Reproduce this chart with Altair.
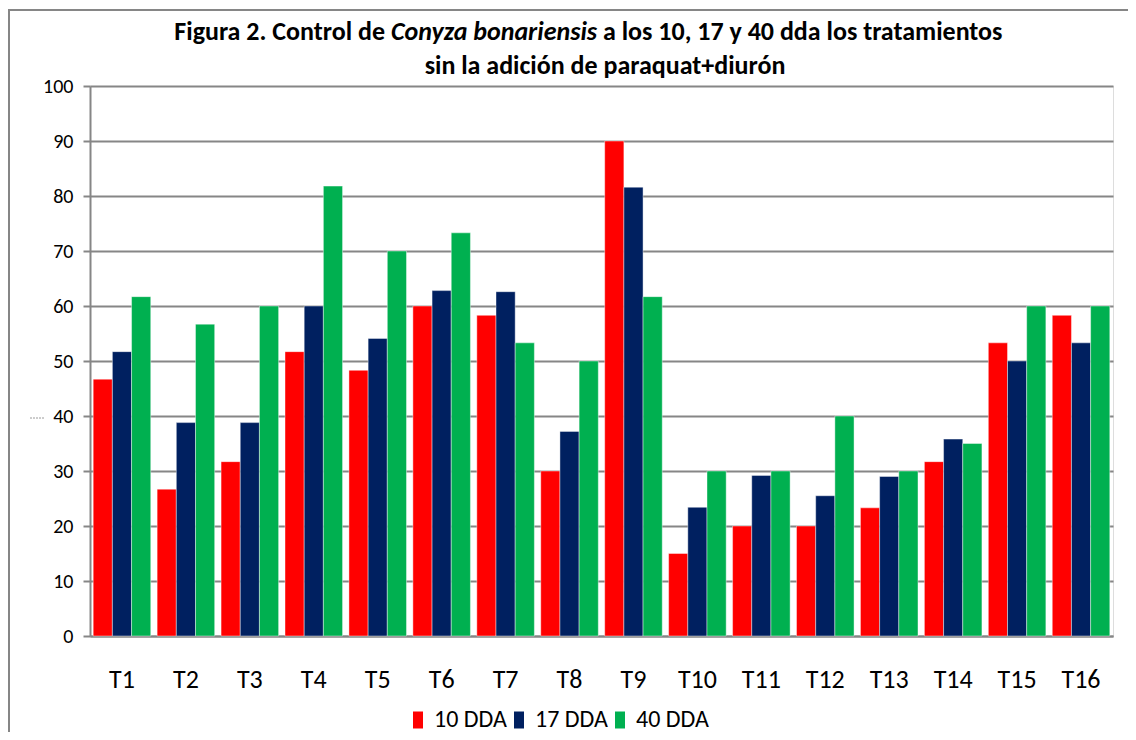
import altair as alt
import pandas as pd

categories = [f"T{i}" for i in range(1, 17)]
series = ["10 DDA", "17 DDA", "40 DDA"]
dda10 = [46.7, 26.7, 31.7, 51.7, 48.3, 60.0, 58.3, 30.0, 90.0, 15.0, 20.0, 20.0, 23.3, 31.7, 53.3, 58.3]
dda17 = [51.7, 38.8, 38.8, 60.0, 54.1, 62.8, 62.6, 37.2, 81.6, 23.4, 29.2, 25.5, 29.0, 35.8, 50.0, 53.3]
dda40 = [61.7, 56.7, 60.0, 81.8, 70.0, 73.3, 53.3, 50.0, 61.7, 30.0, 30.0, 40.0, 30.0, 35.0, 60.0, 60.0]
colors = ["#FF0000", "#002060", "#00B050"]
y_ticks = list(range(0, 101, 10))

rows = []
for s, vals in zip(series, [dda10, dda17, dda40]):
    for c, v in zip(categories, vals):
        rows.append({"trat": c, "serie": s, "valor": v})
df = pd.DataFrame(rows)

FONT = "Carlito, Lato, sans-serif"
W, H = 1023, 550

bars = alt.Chart(df).mark_bar(stroke="white", strokeWidth=0.6, strokeOpacity=0.7).encode(
    x=alt.X("trat:N", sort=categories, title=None,
            scale=alt.Scale(paddingInner=0.1, paddingOuter=0.05),
            axis=alt.Axis(labelAngle=0, ticks=False, labelFontSize=26, labelPadding=30,
                          domainColor="#868686", domainWidth=2, labelColor="#000")),
    xOffset=alt.XOffset("serie:N", sort=series),
    y=alt.Y("valor:Q", title=None,
            scale=alt.Scale(domain=[0, 100], nice=False),
            axis=alt.Axis(values=y_ticks, grid=True, gridColor="#868686", gridWidth=2,
                          tickColor="#868686", tickWidth=2, tickSize=7,
                          domainColor="#868686", domainWidth=2,
                          labelFontSize=20, labelPadding=10, labelColor="#000")),
    color=alt.Color("serie:N", sort=series,
                    scale=alt.Scale(domain=series, range=colors),
                    legend=alt.Legend(title=None, orient="none", direction="horizontal",
                                      legendX=316, legendY=622,
                                      symbolType="M-1,-1.7H1V1.7H-1Z", symbolSize=100,
                                      symbolStrokeWidth=0, labelFontSize=24, labelOffset=4,
                                      columnPadding=0, labelColor="#000")),
)

one = pd.DataFrame({"a": [0]})

border = alt.Chart(one).mark_rect(fill=None, stroke="#868686", strokeWidth=2).encode(
    x=alt.value(-81), x2=alt.value(1060), y=alt.value(-76), y2=alt.value(680)
)

dash = alt.Chart(one).mark_rule(color="#9a9a9a", strokeWidth=1, strokeDash=[2, 1]).encode(
    x=alt.value(-60), x2=alt.value(-46), y=alt.value(332)
)

def txt(text, x, y, align, italic=False):
    return alt.Chart(one).mark_text(
        text=text, font=FONT, fontSize=26, fontWeight="bold",
        fontStyle="italic" if italic else "normal",
        align=align, baseline="alphabetic", color="#000"
    ).encode(x=alt.value(x), y=alt.value(y))

t1 = txt("Figura 2. Control de", 295, -46, "right")
t2 = txt("Conyza bonariensis", 301, -46, "left", italic=True)
t3 = txt("a los 10, 17 y 40 dda los tratamientos", 513, -46, "left")
t4 = txt("sin la adición de paraquat+diurón", 515, -12, "center")

chart = alt.layer(border, dash, bars, t1, t2, t3, t4).properties(
    width=W, height=H,
    padding={"left": 82, "top": 78, "right": 15, "bottom": 96},
    autosize=alt.AutoSizeParams(type="none"),
).configure_view(stroke=None).configure(font=FONT)

chart.save("out.html", embed_options={"renderer": "svg", "actions": False})
